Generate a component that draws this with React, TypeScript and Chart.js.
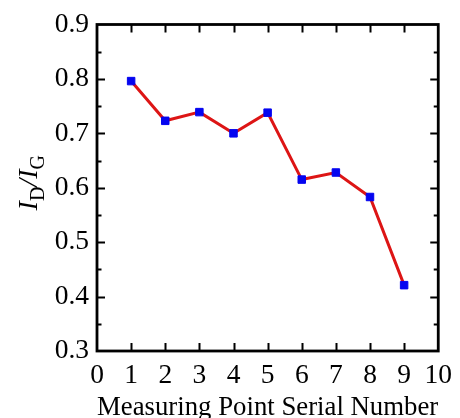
import React, { useEffect, useRef } from "react";
import { Chart, registerables } from "chart.js";

Chart.register(...registerables);

const pointNumbers = [1, 2, 3, 4, 5, 6, 7, 8, 9];
const ratioValues = [0.796, 0.723, 0.739, 0.7, 0.738, 0.615, 0.628, 0.583, 0.421];
const xMajorTicks = [1, 2, 3, 4, 5, 6, 7, 8, 9];
const yMajorTicks = [0.4, 0.5, 0.6, 0.7, 0.8];
const yMinorTicks = [0.35, 0.45, 0.55, 0.65, 0.75, 0.85];
const xTitle = "Measuring Point Serial Number";
const yTitleParts = [
  { text: "I", sub: false },
  { text: "D", sub: true },
  { text: "/", sub: false },
  { text: "I", sub: false },
  { text: "G", sub: true },
];

const FONT = "'Liberation Serif', 'Times New Roman', serif";

const framePlugin = {
  id: "frame",
  afterDatasetsDraw(chart: any) {
    const { ctx, chartArea } = chart;
    const { left, right, top, bottom } = chartArea;
    const xs = chart.scales.x;
    const ys = chart.scales.y;
    ctx.save();
    ctx.strokeStyle = "#000";
    ctx.lineWidth = 2;
    ctx.beginPath();
    const major = 8;
    const minor = 4.5;
    xMajorTicks.forEach((v) => {
      const px = Math.round(xs.getPixelForValue(v)) + 0.5;
      ctx.moveTo(px, bottom);
      ctx.lineTo(px, bottom - major);
      ctx.moveTo(px, top);
      ctx.lineTo(px, top + major);
    });
    yMajorTicks.forEach((v) => {
      const py = Math.round(ys.getPixelForValue(v)) + 0.5;
      ctx.moveTo(left, py);
      ctx.lineTo(left + major, py);
      ctx.moveTo(right, py);
      ctx.lineTo(right - major, py);
    });
    yMinorTicks.forEach((v) => {
      const py = Math.round(ys.getPixelForValue(v)) + 0.5;
      ctx.moveTo(left, py);
      ctx.lineTo(left + minor, py);
      ctx.moveTo(right, py);
      ctx.lineTo(right - minor, py);
    });
    ctx.stroke();
    ctx.lineWidth = 2.8;
    ctx.strokeRect(left, top, right - left, bottom - top);
    ctx.restore();
  },
  afterDraw(chart: any) {
    const { ctx, chartArea } = chart;
    const cy = (chartArea.top + chartArea.bottom) / 2 - 5;
    const baseX = 37;
    const mainSize = 28;
    const subSize = 20;
    ctx.save();
    ctx.fillStyle = "#000";
    ctx.textBaseline = "alphabetic";
    ctx.textAlign = "left";
    const fontFor = (sub: boolean) =>
      sub ? `${subSize}px ${FONT}` : `italic ${mainSize}px ${FONT}`;
    let total = 0;
    const widths = yTitleParts.map((p) => {
      ctx.font = fontFor(p.sub);
      const w = ctx.measureText(p.text).width;
      total += w;
      return w;
    });
    ctx.translate(baseX, cy);
    ctx.rotate(-Math.PI / 2);
    let x = -total / 2;
    yTitleParts.forEach((p, i) => {
      ctx.font = fontFor(p.sub);
      ctx.fillText(p.text, x, p.sub ? 7 : 0);
      x += widths[i];
    });
    ctx.restore();
  },
};

export default function App() {
  const ref = useRef<HTMLCanvasElement | null>(null);
  useEffect(() => {
    if (!ref.current) return;
    const chart = new Chart(ref.current, {
      type: "line",
      data: {
        datasets: [
          {
            data: pointNumbers.map((n, i) => ({ x: n, y: ratioValues[i] })),
            borderColor: "#dd1515",
            borderWidth: 3,
            pointStyle: "rect",
            pointRadius: 5.3,
            pointBorderWidth: 1,
            pointBackgroundColor: "#0505f0",
            pointBorderColor: "#0505f0",
            tension: 0,
            fill: false,
          },
        ],
      },
      options: {
        animation: false,
        responsive: false,
        maintainAspectRatio: false,
        layout: { padding: { left: 0, top: 24, right: 15, bottom: 0 } },
        plugins: { legend: { display: false }, tooltip: { enabled: false } },
        scales: {
          x: {
            type: "linear",
            min: 0,
            max: 10,
            grid: { display: false, drawTicks: false },
            border: { display: false },
            ticks: {
              stepSize: 1,
              padding: 8,
              color: "#000",
              font: { family: FONT, size: 27.5 },
              maxRotation: 0,
              autoSkip: false,
            },
            title: {
              display: true,
              text: xTitle,
              color: "#000",
              font: { family: FONT, size: 28, lineHeight: 0.75 },
              padding: { top: 0, bottom: 0 },
            },
            afterFit(scale: any) {
              scale.height = 67;
            },
          },
          y: {
            min: 0.3,
            max: 0.9,
            grid: { display: false, drawTicks: false },
            border: { display: false },
            ticks: {
              stepSize: 0.1,
              padding: 8,
              color: "#000",
              font: { family: FONT, size: 27.5 },
              callback: (v: any) => Number(v).toFixed(1),
            },
            afterFit(scale: any) {
              scale.width = 97;
            },
          },
        },
      },
      plugins: [framePlugin],
    });
    return () => chart.destroy();
  }, []);
  return (
    <div style={{ position: "fixed", left: 0, top: 0, width: 460, height: 418, background: "#fff" }}>
      <canvas ref={ref} width={460} height={418} style={{ width: 460, height: 418 }} />
    </div>
  );
}
